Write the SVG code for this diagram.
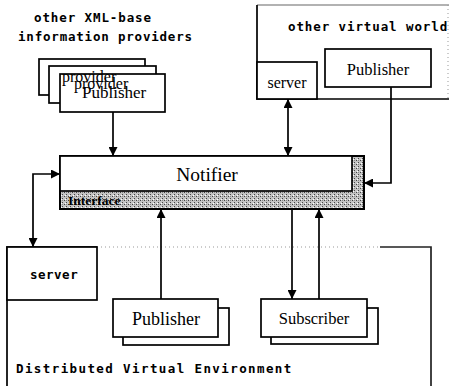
<svg xmlns="http://www.w3.org/2000/svg" width="449" height="386" viewBox="0 0 449 386">
<style>
.mono{font-family:"DejaVu Sans Mono","Liberation Mono",monospace;font-size:12.5px;font-weight:bold;fill:#000;}
.serif{font-family:"Liberation Serif","Times New Roman",serif;fill:#000;}
.box{fill:#fff;stroke:#000;stroke-width:1.7;}
.ln{fill:none;stroke:#000;stroke-width:1.7;}
.faint{fill:none;stroke:#999;stroke-width:1;stroke-dasharray:1 3;}
</style>
<defs>
<marker id="ah" viewBox="0 0 10 10" refX="10" refY="5" markerWidth="9" markerHeight="9" markerUnits="userSpaceOnUse" orient="auto-start-reverse">
<path d="M0,0 L10,5 L0,10 z" fill="#000"/>
</marker>
<pattern id="stip" width="4" height="4" patternUnits="userSpaceOnUse">
<rect width="4" height="4" fill="#c4c4c4"/>
<rect x="0" y="0" width="1" height="1" fill="#444"/>
<rect x="2" y="2" width="1" height="1" fill="#444"/>
<rect x="2" y="0" width="1" height="1" fill="#888"/>
<rect x="1" y="3" width="1" height="1" fill="#fff"/>
</pattern>
</defs>

<g id="dve">
<path class="ln" d="M7,386 V247 H97"/>
<path class="faint" d="M97,247 H380"/>
<path d="M380,247 H431 V386" fill="none" stroke="#222" stroke-width="1.7"/>
<text class="mono" x="16" y="373" letter-spacing="1.4">Distributed Virtual Environment</text>
</g>

<g id="dve-server">
<rect class="box" x="7" y="247" width="90" height="53"/>
<text class="mono" x="30" y="279" letter-spacing="0.5">server</text>
</g>

<g id="world">
<path d="M257,5 H449" fill="none" stroke="#666" stroke-width="1.2"/>
<path class="faint" d="M448,5 V99"/>
<path class="ln" d="M257,5 V99 H449"/>
<text class="mono" x="288" y="31" letter-spacing="0.9">other virtual world</text>
</g>

<g id="world-server">
<rect class="box" x="257" y="62" width="60" height="37"/>
<text class="serif" x="287" y="88" font-size="16" text-anchor="middle">server</text>
</g>

<g id="world-publisher">
<rect class="box" x="325" y="49" width="106" height="38"/>
<text class="serif" x="378" y="75" font-size="16.5" text-anchor="middle">Publisher</text>
</g>

<g id="providers">
<text class="mono" x="34" y="22" letter-spacing="0.9">other XML-base</text>
<text class="mono" x="18" y="41" letter-spacing="0.8">information providers</text>
<rect class="box" x="39" y="59" width="106" height="36"/>
<rect class="box" x="49" y="66" width="107" height="37"/>
<rect class="box" x="60" y="74" width="105" height="38"/>
<text class="serif" x="62" y="82" font-size="16">provider</text>
<text class="serif" x="74" y="89" font-size="16">provider</text>
<text class="serif" x="82" y="98" font-size="17">Publisher</text>
</g>

<g id="notifier">
<rect x="60" y="156" width="304" height="53" fill="url(#stip)" stroke="#000" stroke-width="2"/>
<rect x="60" y="156" width="292" height="35" fill="#fff" stroke="#000" stroke-width="1.7"/>
<text class="serif" x="207" y="181" font-size="19.5" text-anchor="middle">Notifier</text>
<text class="serif" x="68" y="205" font-size="13.5" font-weight="bold">Interface</text>
</g>

<g id="dve-publisher">
<rect class="box" x="123" y="308" width="106" height="37"/>
<rect class="box" x="113" y="299" width="105" height="38"/>
<text class="serif" x="166" y="325" font-size="18" text-anchor="middle">Publisher</text>
</g>

<g id="subscriber">
<rect class="box" x="271" y="308" width="107" height="36"/>
<rect class="box" x="261" y="299" width="106" height="38"/>
<text class="serif" x="314" y="324" font-size="16.5" text-anchor="middle">Subscriber</text>
</g>

<g id="connectors">
<path class="ln" d="M113,112 V156" marker-end="url(#ah)"/>
<path class="ln" d="M60,174 H33 V247" marker-start="url(#ah)" marker-end="url(#ah)"/>
<path class="ln" d="M288,99 V156" marker-start="url(#ah)" marker-end="url(#ah)"/>
<path class="ln" d="M391,87 V183 H364" marker-end="url(#ah)"/>
<path class="ln" d="M161,299 V209" marker-end="url(#ah)"/>
<path class="ln" d="M292,209 V299" marker-end="url(#ah)"/>
<path class="ln" d="M319,299 V209" marker-end="url(#ah)"/>
</g>
</svg>
